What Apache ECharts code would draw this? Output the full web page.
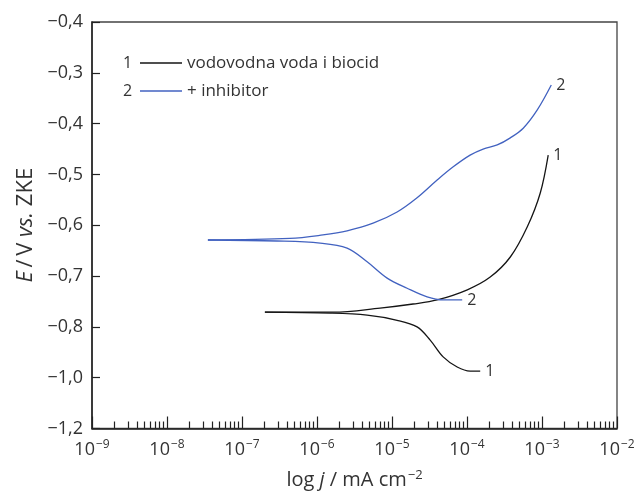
<!DOCTYPE html>
<html>
<head>
<meta charset="utf-8">
<script src="https://cdn.jsdelivr.net/npm/echarts@6/dist/echarts.min.js"></script>
<style>
html,body{margin:0;padding:0;background:#fff;}
#chart{width:638px;height:495px;}
</style>
</head>
<body>
<div id="chart"></div>
<script>
// Curve 1: vodovodna voda i biocid (j in mA cm^-2, E in plot units)
const c1AnodicJ = [2.02e-7, 1.64e-6, 6.93e-6, 1.91e-5, 4.00e-5, 1.01e-4, 2.04e-4, 3.78e-4, 6.37e-4, 9.48e-4, 1.21e-3];
const c1AnodicE = [-0.771, -0.771, -0.763, -0.755, -0.747, -0.727, -0.702, -0.6625, -0.603, -0.5365, -0.462];
const c1CathodicJ = [2.02e-7, 1.49e-6, 4.66e-6, 1.17e-5, 2.16e-5, 3.23e-5, 4.81e-5, 7.40e-5, 1.10e-4, 1.50e-4];
const c1CathodicE = [-0.771, -0.773, -0.777, -0.787, -0.800, -0.826, -0.859, -0.879, -0.887, -0.887];
// Curve 2: + inhibitor
const c2AnodicJ = [3.51e-8, 4.36e-7, 1.20e-6, 2.52e-6, 5.60e-6, 1.17e-5, 2.16e-5, 4.00e-5, 6.55e-5, 1.10e-4, 1.64e-4, 2.53e-4, 3.78e-4, 5.62e-4, 8.65e-4, 1.33e-3];
const c2AnodicE = [-0.629, -0.626, -0.619, -0.611, -0.596, -0.574, -0.546, -0.511, -0.485, -0.462, -0.450, -0.442, -0.428, -0.409, -0.373, -0.324];
const c2CathodicJ = [3.51e-8, 2.92e-7, 1.10e-6, 2.52e-6, 4.66e-6, 8.61e-6, 1.59e-5, 2.94e-5, 4.81e-5, 8.63e-5];
const c2CathodicE = [-0.629, -0.631, -0.635, -0.645, -0.672, -0.704, -0.724, -0.741, -0.747, -0.747];

// Tick labels of the E axis, bottom to top (as printed)
const yTickLabels = ['\u22121,2', '\u22121,0', '\u22120,8', '\u22120,7', '\u22120,6', '\u22120,5', '\u22120,4', '\u22120,3', '\u22120,4'];
const seriesNames = ['vodovodna voda i biocid', '+ inhibitor'];
const curveTags = ['1', '2'];

const decades = [1e-9, 1e-8, 1e-7, 1e-6, 1e-5, 1e-4, 1e-3];
const minorMult = [2, 3, 4, 5, 6, 7, 8, 9];
const minorTicks = [];
decades.forEach(d => minorMult.forEach(m => minorTicks.push(+(d * m).toPrecision(3))));

function pairs(xs, ys) { return xs.map((x, i) => [x, ys[i]]); }

const FONT = 'Open Sans';
const TXT = '#333';
const BLACK = '#151515';
const BLUE = '#4262c0';

function lineSeries(name, color, data, tag) {
  return {
    name: name, type: 'line', data: data, color: color,
    showSymbol: false, symbol: 'none', smooth: 0.35,
    lineStyle: {color: color, width: 1.3},
    endLabel: {show: true, formatter: tag, color: TXT, fontSize: 16, fontFamily: FONT, distance: 5},
    animation: false
  };
}

const chart = echarts.init(document.getElementById('chart'), null, {renderer: 'canvas'});
chart.setOption({
  animation: false,
  textStyle: {fontFamily: FONT},
  grid: {left: 92, right: 21, top: 22, bottom: 66, show: true, borderColor: '#444', borderWidth: 1.3, backgroundColor: 'transparent'},
  legend: {
    show: true, orient: 'vertical', left: 135, top: 49,
    itemWidth: 42, itemHeight: 1.4, icon: 'rect', itemGap: 10,
    textStyle: {fontSize: 17, color: TXT, fontFamily: FONT, lineHeight: 18},
    data: seriesNames, selectedMode: false
  },
  graphic: [
    {type: 'text', x: 123, y: 63, style: {text: curveTags[0], fontSize: 16, fill: TXT, fontFamily: FONT, verticalAlign: 'middle'}},
    {type: 'text', x: 123, y: 91, style: {text: curveTags[1], fontSize: 16, fill: TXT, fontFamily: FONT, verticalAlign: 'middle'}}
  ],
  xAxis: [{
    type: 'log', min: 1e-9, max: 1e-2, logBase: 10, splitNumber: 7,
    position: 'bottom',
    name: '{n|log }{i|j}{n| / mA cm}{s|\u22122}', nameLocation: 'middle', nameGap: 40,
    nameTextStyle: {
      rich: {
        n: {fontSize: 20, color: TXT, fontFamily: FONT},
        i: {fontSize: 20, color: TXT, fontFamily: FONT, fontStyle: 'italic'},
        s: {fontSize: 13, color: TXT, fontFamily: FONT, padding: [0, 0, 10, 1]}
      }
    },
    axisLine: {show: true, lineStyle: {color: '#222', width: 1.5}},
    axisTick: {show: true, inside: true, length: 12, lineStyle: {color: '#222', width: 1.2}},
    splitLine: {show: false},
    minorTick: {show: false},
    axisLabel: {
      margin: 10,
      formatter: function (v) {
        const e = Math.round(Math.log10(v));
        return '{b|10}{s|\u2212' + Math.abs(e) + '}';
      },
      rich: {
        b: {fontSize: 18, color: TXT, fontFamily: FONT},
        s: {fontSize: 12, color: TXT, fontFamily: FONT, padding: [0, 0, 10, 1]}
      }
    }
  }, {
    type: 'log', min: 1e-9, max: 1e-2, logBase: 10, position: 'bottom',
    axisLine: {show: false}, axisLabel: {show: false}, splitLine: {show: false},
    axisTick: {show: true, inside: true, length: 7, customValues: minorTicks, lineStyle: {color: '#222', width: 1.2}}
  }],
  yAxis: {
    type: 'value', min: -1.0, max: -0.2, interval: 0.1,
    name: '{i|E}{n|\u2009/\u2009V }{i|vs.}{n| ZKE}', nameLocation: 'middle', nameGap: 51, nameRotate: 90,
    nameTextStyle: {
      rich: {
        n: {fontSize: 22, color: TXT, fontFamily: FONT},
        i: {fontSize: 22, color: TXT, fontFamily: FONT, fontStyle: 'italic'}
      }
    },
    axisLine: {show: true, lineStyle: {color: '#222', width: 1.5}},
    axisTick: {show: true, inside: true, length: 8, lineStyle: {color: '#222', width: 1.2}},
    splitLine: {show: false},
    axisLabel: {
      margin: 9, fontSize: 18, color: TXT, fontFamily: FONT,
      formatter: function (v) { return yTickLabels[Math.round((v + 1.0) * 10)] || ''; }
    }
  },
  series: [
    lineSeries(seriesNames[0], BLACK, pairs(c1AnodicJ, c1AnodicE), curveTags[0]),
    lineSeries(seriesNames[0], BLACK, pairs(c1CathodicJ, c1CathodicE), curveTags[0]),
    lineSeries(seriesNames[1], BLUE, pairs(c2AnodicJ, c2AnodicE), curveTags[1]),
    lineSeries(seriesNames[1], BLUE, pairs(c2CathodicJ, c2CathodicE), curveTags[1])
  ]
});
</script>
</body>
</html>
